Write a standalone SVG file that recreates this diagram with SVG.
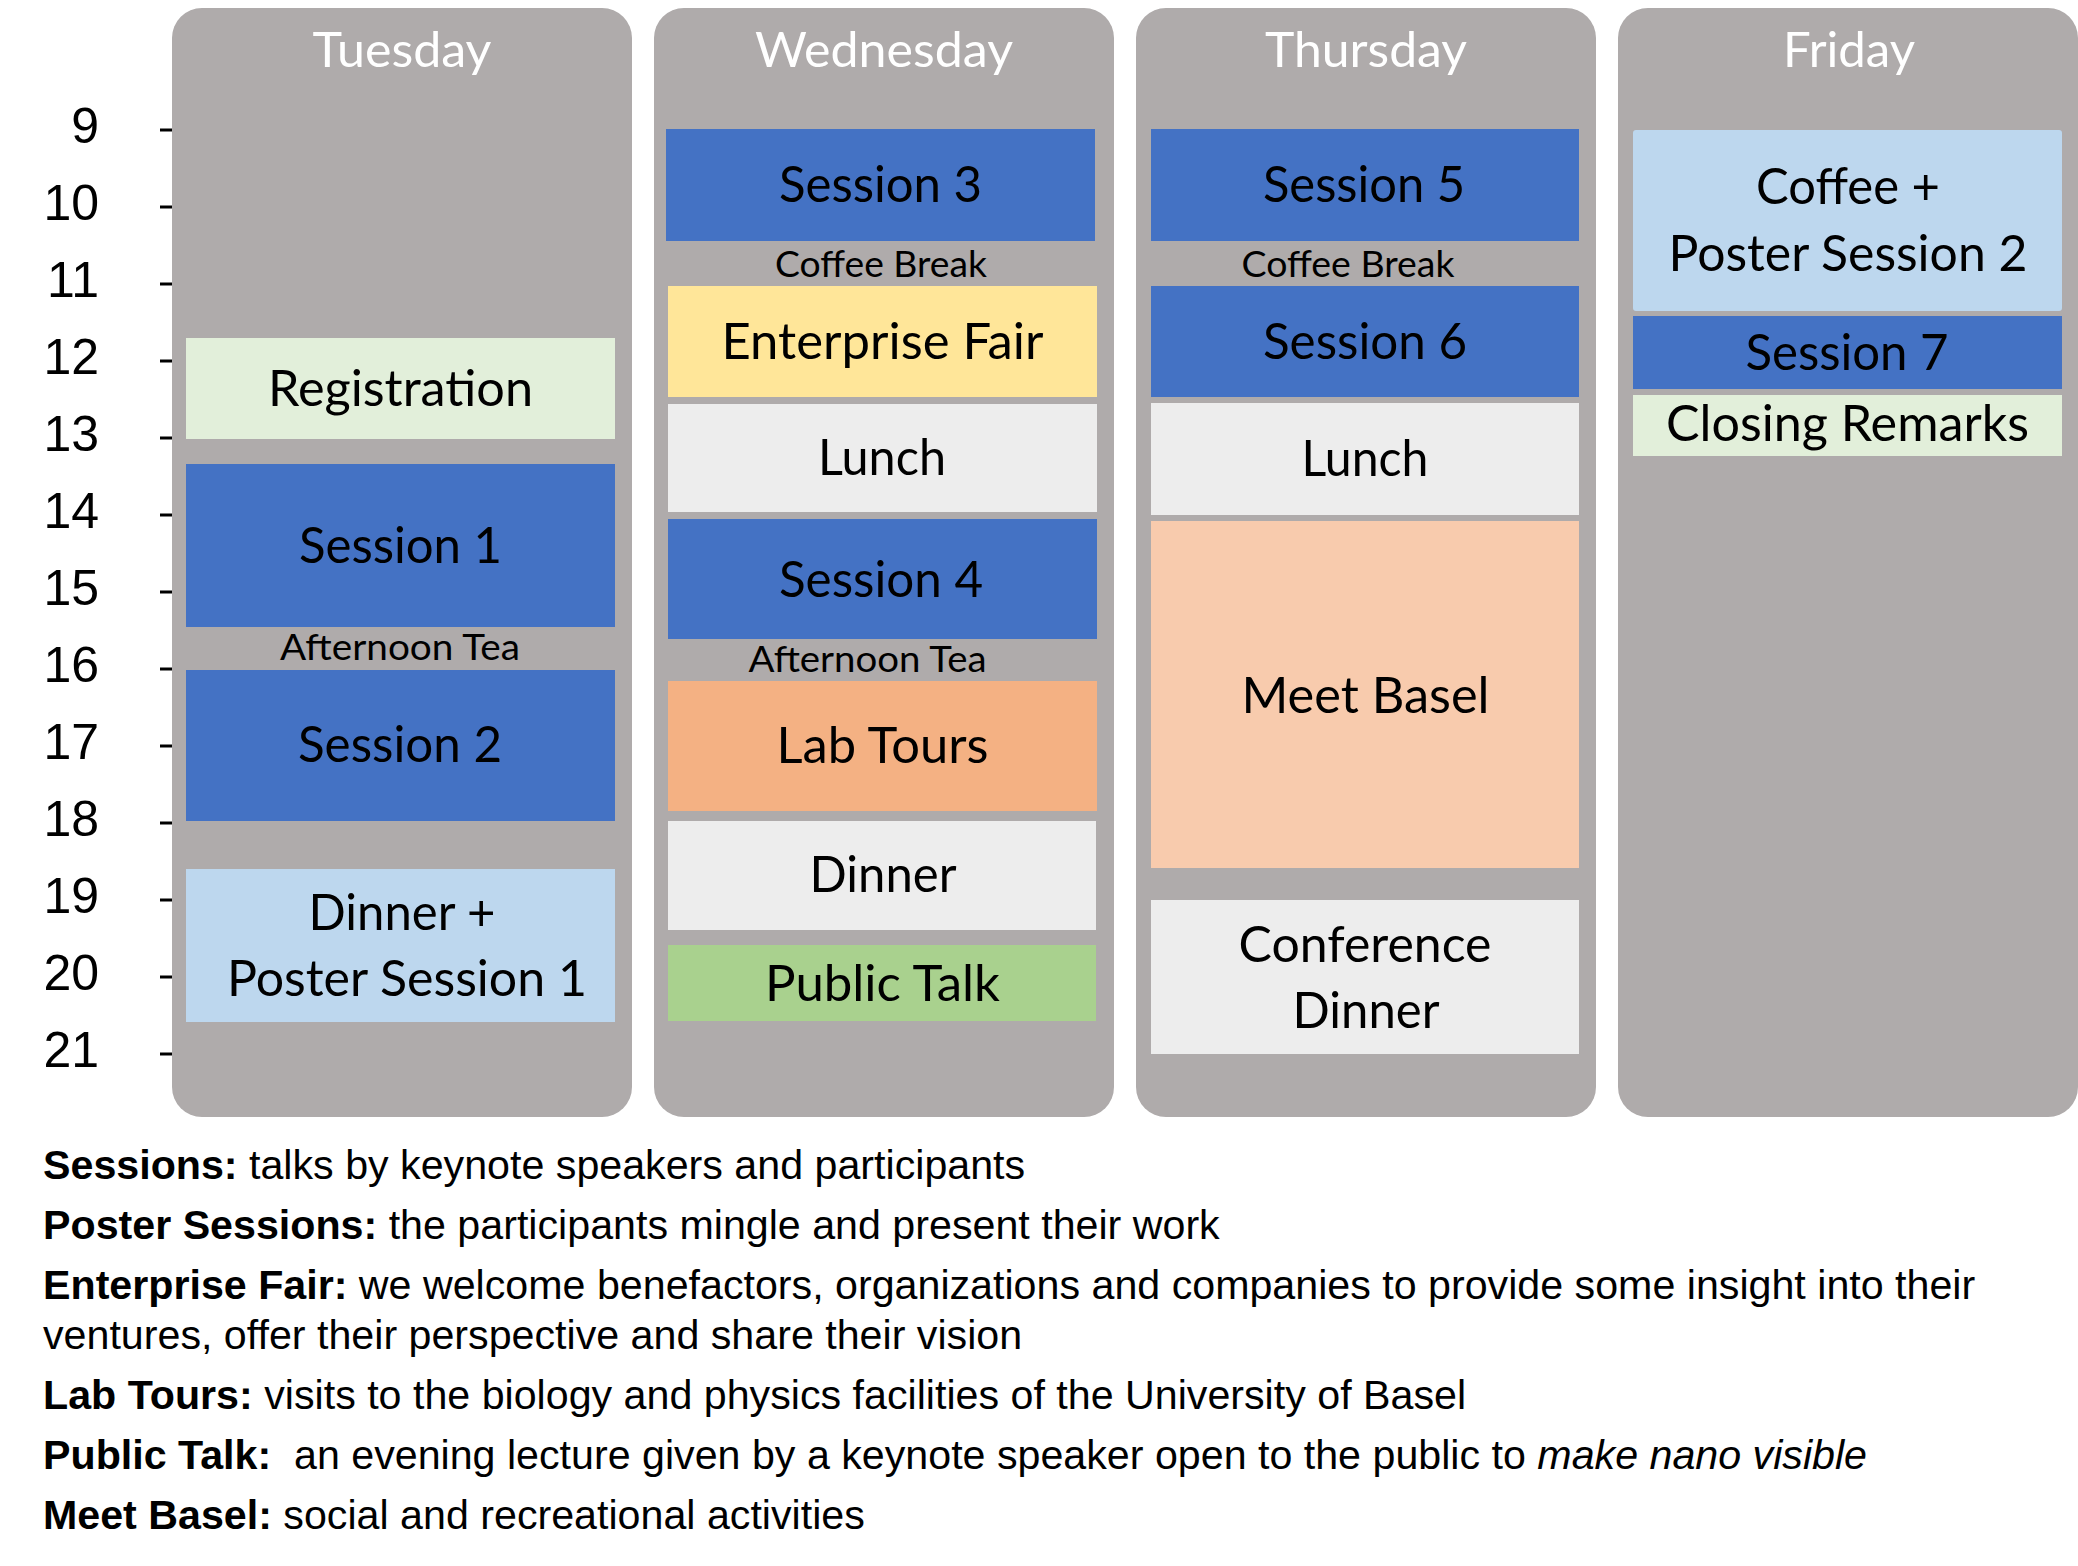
<svg xmlns="http://www.w3.org/2000/svg" width="2078" height="1566" viewBox="0 0 2078 1566">
<style>
.bg{fill:#ffffff}
.panel{fill:#AFABAB}
.hdr{font-family:Lato,"Liberation Sans",sans-serif;font-size:49px;fill:#ffffff;text-anchor:middle}
.lbl{font-family:Lato,"Liberation Sans",sans-serif;font-size:50px;fill:#000000;text-anchor:middle}
.sm{font-family:Lato,"Liberation Sans",sans-serif;font-size:36px;fill:#000000;text-anchor:middle}
.num{font-family:"Liberation Sans",Arial,sans-serif;font-size:50px;fill:#000000;text-anchor:end}
.tick{stroke:#000000;stroke-width:3}
.leg{font-family:"Liberation Sans",Arial,sans-serif;font-size:41.2px;fill:#000000;white-space:pre}
.b{font-weight:bold}
.i{font-style:italic}
.ses{fill:#4472C4}
.reg{fill:#E2EFDA}
.pos{fill:#BDD7EE}
.ent{fill:#FFE699}
.meal{fill:#EDEDED}
.lab{fill:#F4B183}
.meet{fill:#F8CBAD}
.pub{fill:#A9D18E}
</style>
<rect class="bg" x="0" y="0" width="2078" height="1566"/>

<g id="axis">
  <line class="tick" x1="160" y1="130" x2="172" y2="130"/>
  <line class="tick" x1="160" y1="207" x2="172" y2="207"/>
  <line class="tick" x1="160" y1="284" x2="172" y2="284"/>
  <line class="tick" x1="160" y1="361" x2="172" y2="361"/>
  <line class="tick" x1="160" y1="438" x2="172" y2="438"/>
  <line class="tick" x1="160" y1="515" x2="172" y2="515"/>
  <line class="tick" x1="160" y1="592" x2="172" y2="592"/>
  <line class="tick" x1="160" y1="669" x2="172" y2="669"/>
  <line class="tick" x1="160" y1="746" x2="172" y2="746"/>
  <line class="tick" x1="160" y1="823" x2="172" y2="823"/>
  <line class="tick" x1="160" y1="900" x2="172" y2="900"/>
  <line class="tick" x1="160" y1="977" x2="172" y2="977"/>
  <line class="tick" x1="160" y1="1054" x2="172" y2="1054"/>
  <text class="num" x="99" y="143">9</text>
  <text class="num" x="99" y="220">10</text>
  <text class="num" x="99" y="297">11</text>
  <text class="num" x="99" y="374">12</text>
  <text class="num" x="99" y="451">13</text>
  <text class="num" x="99" y="528">14</text>
  <text class="num" x="99" y="605">15</text>
  <text class="num" x="99" y="682">16</text>
  <text class="num" x="99" y="759">17</text>
  <text class="num" x="99" y="836">18</text>
  <text class="num" x="99" y="913">19</text>
  <text class="num" x="99" y="990">20</text>
  <text class="num" x="99" y="1067">21</text>
</g>

<g id="tuesday">
  <rect class="panel" x="172" y="8" width="460" height="1109" rx="30"/>
  <text class="hdr" x="402" y="67" textLength="179" lengthAdjust="spacingAndGlyphs">Tuesday</text>
  <g id="tue-registration">
    <rect class="reg" x="186" y="338" width="429" height="101"/>
    <text class="lbl" x="400.5" y="406" textLength="265" lengthAdjust="spacingAndGlyphs">Registration</text>
  </g>
  <g id="tue-session1">
    <rect class="ses" x="186" y="464" width="429" height="163"/>
    <text class="lbl" x="400.5" y="563" textLength="203" lengthAdjust="spacingAndGlyphs">Session 1</text>
  </g>
  <g id="tue-tea">
    <text class="sm" x="400" y="660" textLength="240" lengthAdjust="spacingAndGlyphs">Afternoon Tea</text>
  </g>
  <g id="tue-session2">
    <rect class="ses" x="186" y="670" width="429" height="151"/>
    <text class="lbl" x="400" y="762" textLength="204" lengthAdjust="spacingAndGlyphs">Session 2</text>
  </g>
  <g id="tue-dinner-poster1">
    <rect class="pos" x="186" y="869" width="429" height="153"/>
    <text class="lbl" x="402" y="930" textLength="187" lengthAdjust="spacingAndGlyphs">Dinner +</text>
    <text class="lbl" x="407" y="996" textLength="360" lengthAdjust="spacingAndGlyphs">Poster Session 1</text>
  </g>
</g>

<g id="wednesday">
  <rect class="panel" x="654" y="8" width="460" height="1109" rx="30"/>
  <text class="hdr" x="884" y="67" textLength="258" lengthAdjust="spacingAndGlyphs">Wednesday</text>
  <g id="wed-session3">
    <rect class="ses" x="666" y="129" width="429" height="112"/>
    <text class="lbl" x="880.5" y="202" textLength="203" lengthAdjust="spacingAndGlyphs">Session 3</text>
  </g>
  <g id="wed-coffee">
    <text class="sm" x="881" y="277" textLength="212" lengthAdjust="spacingAndGlyphs">Coffee Break</text>
  </g>
  <g id="wed-enterprise">
    <rect class="ent" x="668" y="286" width="429" height="111"/>
    <text class="lbl" x="882.5" y="359" textLength="322" lengthAdjust="spacingAndGlyphs">Enterprise Fair</text>
  </g>
  <g id="wed-lunch">
    <rect class="meal" x="668" y="404" width="429" height="108"/>
    <text class="lbl" x="882" y="475" textLength="128" lengthAdjust="spacingAndGlyphs">Lunch</text>
  </g>
  <g id="wed-session4">
    <rect class="ses" x="668" y="519" width="429" height="120"/>
    <text class="lbl" x="881" y="597" textLength="204" lengthAdjust="spacingAndGlyphs">Session 4</text>
  </g>
  <g id="wed-tea">
    <text class="sm" x="867.5" y="672" textLength="238" lengthAdjust="spacingAndGlyphs">Afternoon Tea</text>
  </g>
  <g id="wed-labtours">
    <rect class="lab" x="668" y="681" width="429" height="130"/>
    <text class="lbl" x="882.5" y="763" textLength="212" lengthAdjust="spacingAndGlyphs">Lab Tours</text>
  </g>
  <g id="wed-dinner">
    <rect class="meal" x="668" y="821" width="428" height="109"/>
    <text class="lbl" x="883" y="892" textLength="147" lengthAdjust="spacingAndGlyphs">Dinner</text>
  </g>
  <g id="wed-publictalk">
    <rect class="pub" x="668" y="945" width="428" height="76"/>
    <text class="lbl" x="882.5" y="1001" textLength="235" lengthAdjust="spacingAndGlyphs">Public Talk</text>
  </g>
</g>

<g id="thursday">
  <rect class="panel" x="1136" y="8" width="460" height="1109" rx="30"/>
  <text class="hdr" x="1366" y="67" textLength="202" lengthAdjust="spacingAndGlyphs">Thursday</text>
  <g id="thu-session5">
    <rect class="ses" x="1151" y="129" width="428" height="112"/>
    <text class="lbl" x="1364" y="202" textLength="202" lengthAdjust="spacingAndGlyphs">Session 5</text>
  </g>
  <g id="thu-coffee">
    <text class="sm" x="1348" y="277" textLength="213" lengthAdjust="spacingAndGlyphs">Coffee Break</text>
  </g>
  <g id="thu-session6">
    <rect class="ses" x="1151" y="286" width="428" height="111"/>
    <text class="lbl" x="1365" y="359" textLength="204" lengthAdjust="spacingAndGlyphs">Session 6</text>
  </g>
  <g id="thu-lunch">
    <rect class="meal" x="1151" y="403" width="428" height="112"/>
    <text class="lbl" x="1365" y="476" textLength="127" lengthAdjust="spacingAndGlyphs">Lunch</text>
  </g>
  <g id="thu-meetbasel">
    <rect class="meet" x="1151" y="521" width="428" height="347"/>
    <text class="lbl" x="1365.5" y="713" textLength="248" lengthAdjust="spacingAndGlyphs">Meet Basel</text>
  </g>
  <g id="thu-confdinner">
    <rect class="meal" x="1151" y="900" width="428" height="154"/>
    <text class="lbl" x="1365" y="962" textLength="253" lengthAdjust="spacingAndGlyphs">Conference</text>
    <text class="lbl" x="1366" y="1028" textLength="147" lengthAdjust="spacingAndGlyphs">Dinner</text>
  </g>
</g>

<g id="friday">
  <rect class="panel" x="1618" y="8" width="460" height="1109" rx="30"/>
  <text class="hdr" x="1849" y="67" textLength="132" lengthAdjust="spacingAndGlyphs">Friday</text>
  <g id="fri-coffee-poster2">
    <rect class="pos" x="1633" y="130" width="429" height="181" rx="3"/>
    <text class="lbl" x="1848" y="204" textLength="184" lengthAdjust="spacingAndGlyphs">Coffee +</text>
    <text class="lbl" x="1848" y="271" textLength="359" lengthAdjust="spacingAndGlyphs">Poster Session 2</text>
  </g>
  <g id="fri-session7">
    <rect class="ses" x="1633" y="316" width="429" height="73"/>
    <text class="lbl" x="1847" y="370" textLength="203" lengthAdjust="spacingAndGlyphs">Session 7</text>
  </g>
  <g id="fri-closing">
    <rect class="reg" x="1633" y="395" width="429" height="61"/>
    <text class="lbl" x="1847.5" y="441" textLength="363" lengthAdjust="spacingAndGlyphs">Closing Remarks</text>
  </g>
</g>

<g id="connectors"></g>

<g id="legend">
  <text class="leg" x="43" y="1179"><tspan class="b">Sessions:</tspan> talks by keynote speakers and participants</text>
  <text class="leg" x="43" y="1239"><tspan class="b">Poster Sessions:</tspan> the participants mingle and present their work</text>
  <text class="leg" x="43" y="1299"><tspan class="b">Enterprise Fair:</tspan> we welcome benefactors, organizations and companies to provide some insight into their</text>
  <text class="leg" x="43" y="1349">ventures, offer their perspective and share their vision</text>
  <text class="leg" x="43" y="1409"><tspan class="b">Lab Tours:</tspan> visits to the biology and physics facilities of the University of Basel</text>
  <text class="leg" x="43" y="1469"><tspan class="b">Public Talk:</tspan>  an evening lecture given by a keynote speaker open to the public to <tspan class="i">make nano visible</tspan></text>
  <text class="leg" x="43" y="1529"><tspan class="b">Meet Basel:</tspan> social and recreational activities</text>
</g>
</svg>
